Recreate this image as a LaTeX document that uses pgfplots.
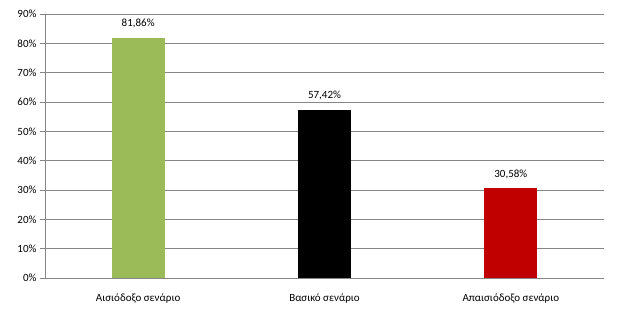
\documentclass[border=0pt]{standalone}
\usepackage{fontspec}
\setmainfont{Carlito}
\usepackage{pgfplots}
\pgfplotsset{compat=1.18}
\definecolor{bgreen}{HTML}{9BBB59}
\definecolor{bred}{HTML}{C00000}
\definecolor{gridc}{HTML}{868686}
\begin{document}
\begin{tikzpicture}
\begin{axis}[
  name=ax,
  scale only axis,
  width=559bp, height=264bp,
  xmin=-0.5, xmax=2.5,
  ymin=0, ymax=90,
  ytick={0,10,...,90},
  yticklabel={\pgfmathprintnumber{\tick}\%},
  /pgf/number format/assume math mode=true,
  xtick={0,1,2},
  xticklabels={Αισιόδοξο σενάριο, Βασικό σενάριο, Απαισιόδοξο σενάριο},
  extra x ticks={-0.5,0.5,1.5,2.5},
  extra x tick labels={},
  extra x tick style={major tick length=5bp, tick style={gridc}, grid=none},
  major x tick style={draw=none},
  ymajorgrids,
  grid style={gridc, line width=0.8pt},
  axis line style={gridc, line width=0.8pt},
  axis x line*=bottom,
  axis y line*=left,
  tick align=outside,
  ytick style={gridc, line width=0.8pt},
  major tick length=5bp,
  tick label style={font=\fontsize{11bp}{13bp}\selectfont, text=black},
  yticklabel style={xshift=0bp},
  xticklabel style={yshift=-7bp},
  ybar, bar width=53bp, bar shift=0pt,
  nodes near coords,
  point meta=explicit symbolic,
  nodes near coords style={font=\fontsize{11bp}{13bp}\selectfont, text=black, yshift=6bp},
  clip=false,
]
\addplot[fill=bgreen, draw=none] coordinates {(0,81.86) [81,86\%]};
\addplot[fill=black, draw=none] coordinates {(1,57.42) [57,42\%]};
\addplot[fill=bred, draw=none] coordinates {(2,30.58) [30,58\%]};
\end{axis}
\pgfresetboundingbox
\path[use as bounding box] ([xshift=-45bp,yshift=-41bp]ax.south west) rectangle ([xshift=14bp,yshift=14bp]ax.north east);
\end{tikzpicture}
\end{document}
